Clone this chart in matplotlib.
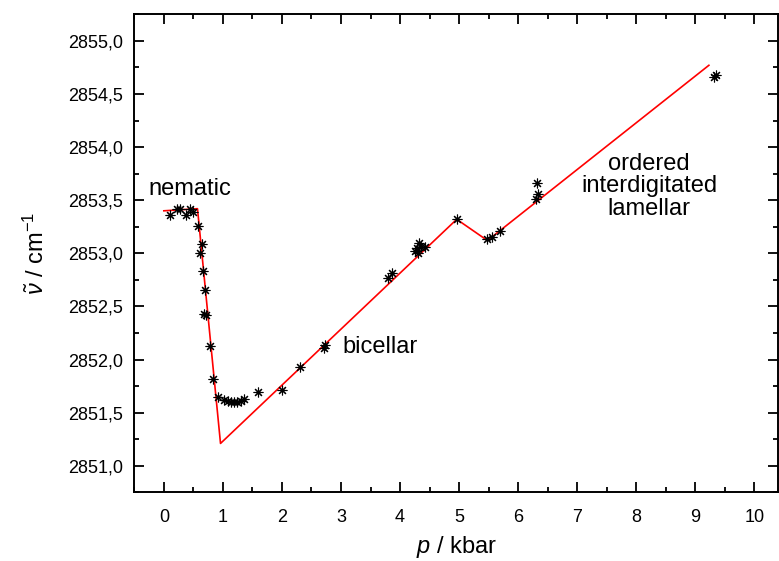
import numpy as np
import matplotlib
matplotlib.use("Agg")
import matplotlib.pyplot as plt
from matplotlib.ticker import MultipleLocator, FuncFormatter

plt.rcParams['font.family'] = ['Liberation Sans', 'DejaVu Sans']
plt.rcParams['mathtext.fontset'] = 'custom'
plt.rcParams['mathtext.rm'] = 'Liberation Sans'
plt.rcParams['mathtext.it'] = 'Liberation Sans:italic'

# measured wavenumbers (asterisks)
p_data = [0.11, 0.23, 0.28, 0.37, 0.45, 0.49, 0.58, 0.64, 0.62, 0.67,
          0.69, 0.68, 0.72, 0.78, 0.83, 0.91, 1.02, 1.08, 1.13, 1.19,
          1.24, 1.30, 1.36, 1.60, 2.00, 2.31, 2.71, 2.73, 3.80, 3.86,
          4.25, 4.28, 4.31, 4.32, 4.36, 4.42, 4.96, 5.48, 5.55, 5.69,
          6.30, 6.33, 6.32, 9.32, 9.35]
nu_data = [2853.36, 2853.42, 2853.42, 2853.36, 2853.42, 2853.39, 2853.26, 2853.09, 2853.00, 2852.83,
           2852.65, 2852.43, 2852.42, 2852.13, 2851.82, 2851.645, 2851.62, 2851.61, 2851.60, 2851.60,
           2851.60, 2851.61, 2851.63, 2851.69, 2851.71, 2851.93, 2852.11, 2852.14, 2852.77, 2852.81,
           2853.02, 2853.05, 2853.00, 2853.10, 2853.06, 2853.06, 2853.32, 2853.13, 2853.15, 2853.21,
           2853.51, 2853.56, 2853.66, 2854.66, 2854.68]

# red guide line
p_line = [0.0, 0.57, 0.96, 4.96, 5.48, 9.23]
nu_line = [2853.40, 2853.42, 2851.21, 2853.32, 2853.12, 2854.77]

fig = plt.figure(figsize=(7.79, 5.61), dpi=100)
ax = fig.add_axes([0.1724, 0.1225, 0.8263, 0.852])

ax.plot(p_line, nu_line, color='red', lw=1.2, zorder=2)
ax.plot(p_data, nu_data, linestyle='none', marker=(8, 2, 0), markersize=7,
        markeredgewidth=0.8, color='black', zorder=3)

ax.set_xlim(-0.5, 10.4)
ax.set_ylim(2850.75, 2855.25)
ax.xaxis.set_major_locator(MultipleLocator(1))
ax.xaxis.set_minor_locator(MultipleLocator(0.5))
ax.yaxis.set_major_locator(MultipleLocator(0.5))
ax.yaxis.set_minor_locator(MultipleLocator(0.25))
ax.yaxis.set_major_formatter(FuncFormatter(lambda v, pos: ('%.1f' % v).replace('.', ',')))

ax.tick_params(which='both', direction='in', top=True, right=True, width=1.3)
ax.tick_params(which='major', length=7, labelsize=13)
ax.tick_params(which='minor', length=3.5)
ax.tick_params(axis='x', which='major', pad=12)
ax.tick_params(axis='y', which='major', pad=8)
for s in ax.spines.values():
    s.set_linewidth(1.4)

ax.set_xlabel(r'$p$ / kbar', fontsize=17, labelpad=6)
ax.set_ylabel(r'$\tilde{\nu}$ / cm$^{-1}$', fontsize=17, labelpad=14)

ax.text(0.44, 2853.55, 'nematic', fontsize=17, ha='center', va='baseline')
ax.text(3.67, 2852.06, 'bicellar', fontsize=17, ha='center', va='baseline')
ax.text(8.22, 2853.63, 'ordered\ninterdigitated\nlamellar', fontsize=17,
        ha='center', va='center', multialignment='center', linespacing=1.05)

fig.savefig('out.png', dpi=100)
